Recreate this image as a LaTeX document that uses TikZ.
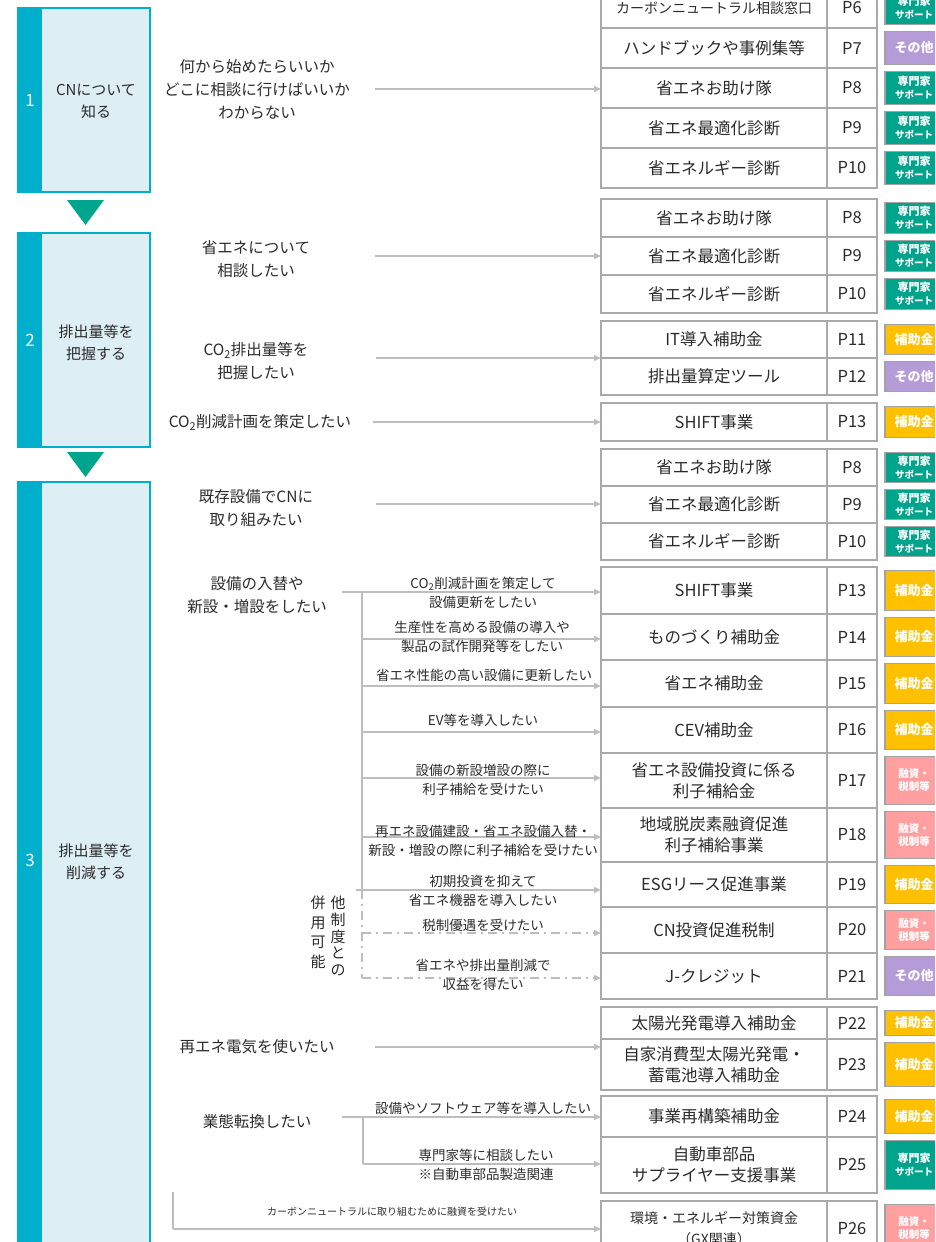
\documentclass[tikz,border=0pt]{standalone}
\usepackage{fontspec}
\setmainfont{Noto Sans CJK JP}
\usetikzlibrary{arrows.meta}
\definecolor{cyanbar}{HTML}{00AFCB}
\definecolor{lightfill}{HTML}{DDEEF4}
\definecolor{tritl}{HTML}{00A58E}
\definecolor{tagexp}{HTML}{00A38C}
\definecolor{tagoth}{HTML}{B59BD8}
\definecolor{tagsub}{HTML}{FFC000}
\definecolor{tagfin}{HTML}{FF9F9F}
\definecolor{tagedge}{HTML}{A3A3A3}
\definecolor{tblgray}{HTML}{A9A9A9}
\definecolor{arrgray}{HTML}{BDBDBD}
\definecolor{txt}{HTML}{2B2B2B}
\newcommand\tagtxtE{{\fontsize{11}{13}\selectfont 専門家}\\{\fontsize{9.5}{13}\selectfont サポート}}
\newcommand\tagtxtO{その他}
\newcommand\tagtxtH{補助金}
\newcommand\tagtxtY{融資・\\税制等}
\newcommand\tblrow[6]{%
  \pgfmathsetmacro\rowc{(#2+#3)/2}%
  \pgfmathsetmacro\rowh{#3-#2}%
  \pgfmathsetmacro\tagh{#3-#2-7}%
  \node[namecell, minimum height=\rowh pt] (n#1) at (714,\rowc) {#4};
  \node[pagecell, minimum height=\rowh pt] (p#1) at (852,\rowc) {#5};
  \node[tagbox, tag#6, minimum height=\tagh pt] (t#1) at (914,\rowc) {\csname tagtxt#6\endcsname};
}
\begin{document}
\begin{tikzpicture}[x=1pt,y=-1pt,
  every node/.style={inner sep=0pt, outer sep=0pt, text=txt},
  namecell/.style={draw=tblgray, line width=1.3pt, minimum width=226pt, align=center, font=\fontsize{16.5}{21}\selectfont},
  pagecell/.style={draw=tblgray, line width=1.3pt, minimum width=50pt, font=\fontsize{16.5}{20}\selectfont},
  tagbox/.style={draw=tagedge, line width=1.2pt, minimum width=58pt, align=center, text=white, font=\bfseries\fontsize{10}{13}\selectfont},
  tagE/.style={fill=tagexp},
  tagO/.style={fill=tagoth, font=\bfseries\fontsize{13}{14}\selectfont},
  tagH/.style={fill=tagsub, font=\bfseries\fontsize{13}{14}\selectfont},
  tagY/.style={fill=tagfin, font=\bfseries\fontsize{10.5}{13}\selectfont},
  stagebox/.style={draw=cyanbar, fill=lightfill, line width=1.2pt, minimum width=132pt},
  stagebar/.style={fill=cyanbar, minimum width=24pt, text=white, font=\fontsize{17}{20}\selectfont},
  stagetxt/.style={align=center, font=\fontsize{15}{22}\selectfont},
  qtext/.style={align=center, font=\fontsize{15.5}{23}\selectfont},
  btext/.style={align=center, font=\fontsize{13.5}{19.5}\selectfont},
  vtext/.style={align=center, font=\fontsize{15}{16.8}\selectfont},
  gline/.style={draw=arrgray, line width=1.6pt},
  conn/.style={gline, -{Triangle[length=7pt,width=6pt]}},
  ddline/.style={dash pattern=on 9pt off 5pt on 2pt off 5pt},
]
\useasboundingbox (0,0) rectangle (935,1242);
\clip (0,0) rectangle (935,1242);

% ---------- stage boxes ----------
\node[stagebox, minimum height=184pt] (st1) at (84,100) {};
\node[stagebar, minimum height=184pt, anchor=west] (sb1) at (st1.west) {1};
\node[stagetxt] (stt1) at (96,101) {CNについて\\知る};
\fill[tritl] (67,200) -- (104,200) -- (85.5,225) -- cycle;

\node[stagebox, minimum height=214pt] (st2) at (84,340) {};
\node[stagebar, minimum height=214pt, anchor=west] (sb2) at (st2.west) {2};
\node[stagetxt] (stt2) at (96,343) {排出量等を\\把握する};
\fill[tritl] (67,452) -- (104,452) -- (85.5,477) -- cycle;

\node[stagebox, minimum height=790pt] (st3) at (84,877) {};
\node[stagebar, minimum height=790pt, anchor=west] (sb3) at (st3.west) {};
\node[text=white, font=\fontsize{17}{20}\selectfont] (num3) at (30,860) {3};
\node[stagetxt] (stt3) at (96,862) {排出量等を\\削減する};

% ---------- table rows ----------
\tblrow{a6}{-12}{28}{\fontsize{14}{16}\selectfont カーボンニュートラル相談窓口}{P6}{E}
\tblrow{a7}{28}{68}{ハンドブックや事例集等}{P7}{O}
\tblrow{a8}{68}{108}{省エネお助け隊}{P8}{E}
\tblrow{a9}{108}{148}{省エネ最適化診断}{P9}{E}
\tblrow{a10}{148}{188}{省エネルギー診断}{P10}{E}

\tblrow{b8}{199}{237}{省エネお助け隊}{P8}{E}
\tblrow{b9}{237}{275}{省エネ最適化診断}{P9}{E}
\tblrow{b10}{275}{313}{省エネルギー診断}{P10}{E}
\tblrow{b11}{321}{358}{IT導入補助金}{P11}{H}
\tblrow{b12}{358}{395}{排出量算定ツール}{P12}{O}
\tblrow{b13}{403}{441}{SHIFT事業}{P13}{H}

\tblrow{c8}{449}{486}{省エネお助け隊}{P8}{E}
\tblrow{c9}{486}{523}{省エネ最適化診断}{P9}{E}
\tblrow{c10}{523}{560}{省エネルギー診断}{P10}{E}

\tblrow{d13}{567}{614}{SHIFT事業}{P13}{H}
\tblrow{d14}{614}{660}{ものづくり補助金}{P14}{H}
\tblrow{d15}{660}{707}{省エネ補助金}{P15}{H}
\tblrow{d16}{707}{753}{CEV補助金}{P16}{H}
\tblrow{d17}{753}{808}{省エネ設備投資に係る\\利子補給金}{P17}{Y}
\tblrow{d18}{808}{862}{地域脱炭素融資促進\\利子補給事業}{P18}{Y}
\tblrow{d19}{862}{907}{ESGリース促進事業}{P19}{H}
\tblrow{d20}{907}{953}{CN投資促進税制}{P20}{Y}
\tblrow{d21}{953}{999}{J-クレジット}{P21}{O}

\tblrow{e22}{1007}{1039}{太陽光発電導入補助金}{P22}{H}
\tblrow{e23}{1039}{1090}{自家消費型太陽光発電・\\蓄電池導入補助金}{P23}{H}
\tblrow{f24}{1096}{1137}{事業再構築補助金}{P24}{H}
\tblrow{f25}{1137}{1193}{自動車部品\\サプライヤー支援事業}{P25}{E}
\tblrow{g26}{1201}{1256}{{\fontsize{14}{19}\selectfont 環境・エネルギー対策資金}\\{\fontsize{14}{19}\selectfont （GX関連）}}{P26}{Y}

% ---------- connectors ----------
\coordinate (j1) at (375,89);
\draw[conn] (j1) -- (j1 -| na8.west);
\coordinate (j2a) at (375,256);
\draw[conn] (j2a) -- (j2a -| nb9.west);
\coordinate (j2b) at (376,358);
\draw[conn] (j2b) -- (j2b -| nb11.west);
\coordinate (j2c) at (373,422);
\draw[conn] (j2c) -- (j2c -| nb13.west);
\coordinate (j3a) at (376,504);
\draw[conn] (j3a) -- (j3a -| nc9.west);

\coordinate (j3b) at (342,592);
\coordinate (k13) at (362,592);
\coordinate (k14) at (362,639);
\coordinate (k15) at (362,686);
\coordinate (k16) at (362,732);
\coordinate (k17) at (362,778);
\coordinate (k18) at (362,837);
\coordinate (k19) at (362,890);
\coordinate (k20) at (362,933);
\coordinate (k21) at (362,978);
\draw[gline] (j3b) -- (k13) -- (k19);
\draw[gline] (k19) -- ++(-6,0);
\draw[gline, ddline] (k19) -- (k21);
\foreach \i in {13,14,15,16,17,18,19}{
  \draw[conn] (k\i) -- (k\i -| nd\i.west);
}
\foreach \i in {20,21}{
  \draw[conn, ddline] (k\i) -- (k\i -| nd\i.west);
}

\coordinate (j3c) at (375,1047);
\draw[conn] (j3c) -- (j3c -| ne22.west);

\coordinate (j3d) at (342,1117);
\coordinate (k24) at (363,1117);
\coordinate (k25) at (363,1164);
\draw[gline] (j3d) -- (k24) -- (k25);
\draw[conn] (k24) -- (k24 -| nf24.west);
\draw[conn] (k25) -- (k25 -| nf25.west);

\coordinate (k26a) at (173,1192);
\coordinate (k26) at (173,1229);
\draw[gline] (k26a) -- (k26);
\draw[conn] (k26) -- (k26 -| ng26.west);

% ---------- question texts ----------
\node[qtext] (q1) at (257,89) {何から始めたらいいか\\どこに相談に行けばいいか\\わからない};
\node[qtext] (q2a) at (256,259) {省エネについて\\相談したい};
\node[qtext] (q2b) at (256,361) {CO\textsubscript{2}排出量等を\\把握したい};
\node[qtext] (q2c) at (260,422) {CO\textsubscript{2}削減計画を策定したい};
\node[qtext] (q3a) at (256,508) {既存設備でCNに\\取り組みたい};
\node[qtext] (q3b) at (257,595) {設備の入替や\\新設・増設をしたい};
\node[qtext] (q3c) at (257,1047) {再エネ電気を使いたい};
\node[qtext] (q3d) at (257,1122) {業態転換したい};

% ---------- branch labels ----------
\node[btext] (l13) at (483,593) {CO\textsubscript{2}削減計画を策定して\\設備更新をしたい};
\node[btext] (l14) at (482,637) {生産性を高める設備の導入や\\製品の試作開発等をしたい};
\node[btext] (l15) at (484,675) {省エネ性能の高い設備に更新したい};
\node[btext] (l16) at (483,720) {EV等を導入したい};
\node[btext] (l17) at (483,780) {設備の新設増設の際に\\利子補給を受けたい};
\node[btext] (l18) at (483,841) {再エネ設備建設・省エネ設備入替・\\新設・増設の際に利子補給を受けたい};
\node[btext] (l19) at (483,891) {初期投資を抑えて\\省エネ機器を導入したい};
\node[btext] (l20) at (483,925) {税制優遇を受けたい};
\node[btext] (l21) at (483,975) {省エネや排出量削減で\\収益を得たい};
\node[btext] (l24) at (483,1108) {設備やソフトウェア等を導入したい};
\node[btext] (l25) at (486,1165) {専門家等に相談したい\\※自動車部品製造関連};
\node[btext, font=\fontsize{10}{12}\selectfont] (l26) at (392,1212) {カーボンニュートラルに取り組むために融資を受けたい};

% ---------- vertical note ----------
\node[vtext, anchor=north] (v1) at (338,896) {他\\制\\度\\と\\の};
\node[vtext, anchor=north, font=\fontsize{15}{19.5}\selectfont] (v2) at (318,896) {併\\用\\可\\能};
\end{tikzpicture}
\end{document}
